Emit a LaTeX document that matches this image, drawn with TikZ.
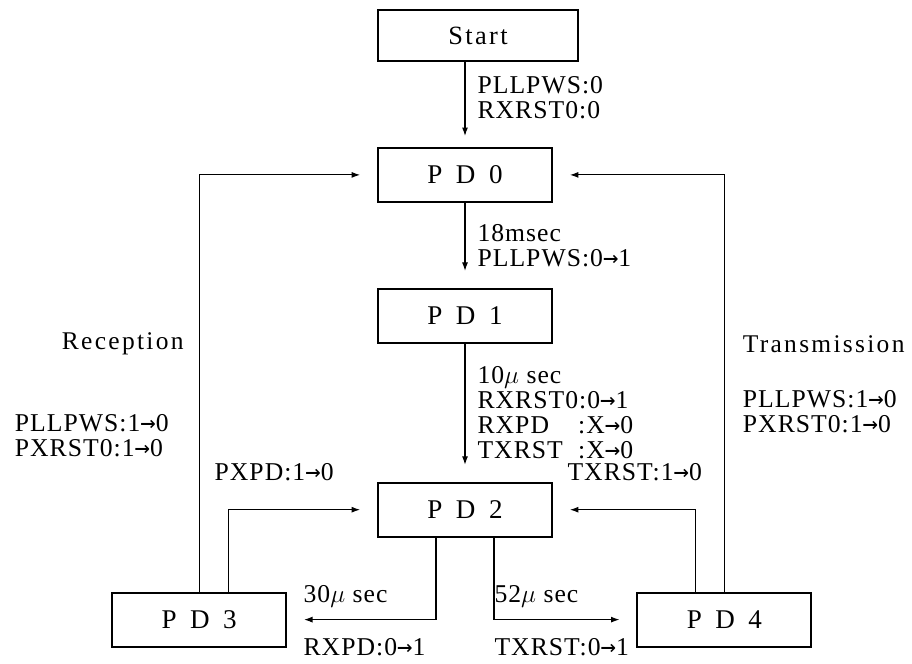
\documentclass[tikz,border=0pt]{standalone}
\usepackage{fontspec}
\usepackage{calc}
\usepackage{tikz}
\usetikzlibrary{positioning,arrows.meta}

\newfontfamily\lblfont{Liberation Serif}[LetterSpace=4]
\newfontfamily\ttlfont{Liberation Serif}[LetterSpace=9]
\newfontfamily\arrfont{DejaVu Sans Mono}
\newfontfamily\boxfont{Liberation Serif}[WordSpace=2]
\newcommand{\tarr}{{\arrfont →}}
\newcommand{\colbox}[1]{\makebox[\widthof{RXRST0}][l]{#1}}

\begin{document}
\begin{tikzpicture}[
    x=0.02cm,
    y=0.02cm,
    box/.style={
        rectangle,
        draw,
        line width=1.1pt,
        minimum width=3.48cm,
        minimum height=1.08cm,
        inner sep=0pt,
        font=\boxfont\fontsize{15.4pt}{16pt}\selectfont
      },
    startbox/.style={box, minimum width=4cm, minimum height=1.02cm,
        font=\ttlfont\fontsize{15pt}{15pt}\selectfont},
    lbl/.style={inner sep=0pt, align=left,
        font=\lblfont\fontsize{14.6pt}{14.2pt}\selectfont},
    ttl/.style={inner sep=0pt, font=\ttlfont\fontsize{14.5pt}{14pt}\selectfont},
    arrow/.style={-{Latex[length=4.8pt,width=3.4pt]},line width=0.6pt,shorten >=0.34cm}
    ]

    \useasboundingbox (0,0) rectangle (912,663);

    \node[startbox] (start) at (478,627.5) {Start};
    \node[box,below=1.7cm of start.south west,anchor=north west] (pd0) {P D 0};
    \node[box,below=1.7cm of pd0] (pd1) {P D 1};
    \node[box,below=2.76cm of pd1] (pd2) {P D 2};
    \node[box,below left=1.08cm and 1.8cm of pd2] (pd3) {P D 3};
    \node[box,below right=1.08cm and 1.67cm of pd2] (pd4) {P D 4};

    % main column
    \draw[arrow,shorten >=0.22cm] (start.south -| pd0.north)--(pd0.north)
      node[lbl,pos=0.42,right=0.24cm] (l0) {PLLPWS:0\\RXRST0:0};
    \draw[arrow] (pd0)--(pd1)
      node[lbl,midway,right=0.24cm] (l1) {18msec\\PLLPWS:0\tarr 1};
    \draw[arrow] (pd1)--(pd2)
      node[lbl,midway,right=0.24cm] (l2) {10$\mu$ sec\\RXRST0:0\tarr 1\\\colbox{RXPD}:X\tarr 0\\\colbox{TXRST}:X\tarr 0};

    % back to PD0
    \draw[arrow] (pd3.north) |- (pd0.west)
      node[ttl,pos=0.297,left=0.3cm] (rx) {Reception}
      node[lbl,pos=0.187,left=0.6cm] (rxs) {PLLPWS:1\tarr 0\\PXRST0:1\tarr 0};
    \draw[arrow] (pd4.north) |- (pd0.east)
      node[ttl,pos=0.297,right=0.36cm] (tx) {Transmission}
      node[lbl,pos=0.2165,right=0.36cm] (txs) {PLLPWS:1\tarr 0\\PXRST0:1\tarr 0};

    % back to PD2
    \draw[arrow] ([xshift=0.58cm]pd3.north) |- (pd2.west)
      node[lbl,pos=0.5,anchor=west,xshift=-0.28cm,yshift=0.76cm] (pxpd) {PXPD:1\tarr 0};
    \draw[arrow] ([xshift=-0.58cm]pd4.north) |- (pd2.east)
      node[lbl,pos=0.5,anchor=east,xshift=0.14cm,yshift=0.76cm] (txrst) {TXRST:1\tarr 0};

    % out of PD2
    \draw[arrow] ([xshift=-0.58cm]pd2.south) |- (pd3.east)
      node[lbl,pos=1,anchor=west,xshift=0.32cm,yshift=0.46cm] (t30) {30$\mu$ sec}
      node[lbl,pos=1,anchor=west,xshift=0.32cm,yshift=-0.56cm] (rxpd) {RXPD:0\tarr 1};
    \draw[arrow] ([xshift=0.58cm]pd2.south) |- (pd4.west)
      node[lbl,pos=0.5,anchor=west,yshift=0.46cm] (t52) {52$\mu$ sec}
      node[lbl,pos=0.5,anchor=west,yshift=-0.56cm] (txrst1) {TXRST:0\tarr 1};

  \end{tikzpicture}
\end{document}
